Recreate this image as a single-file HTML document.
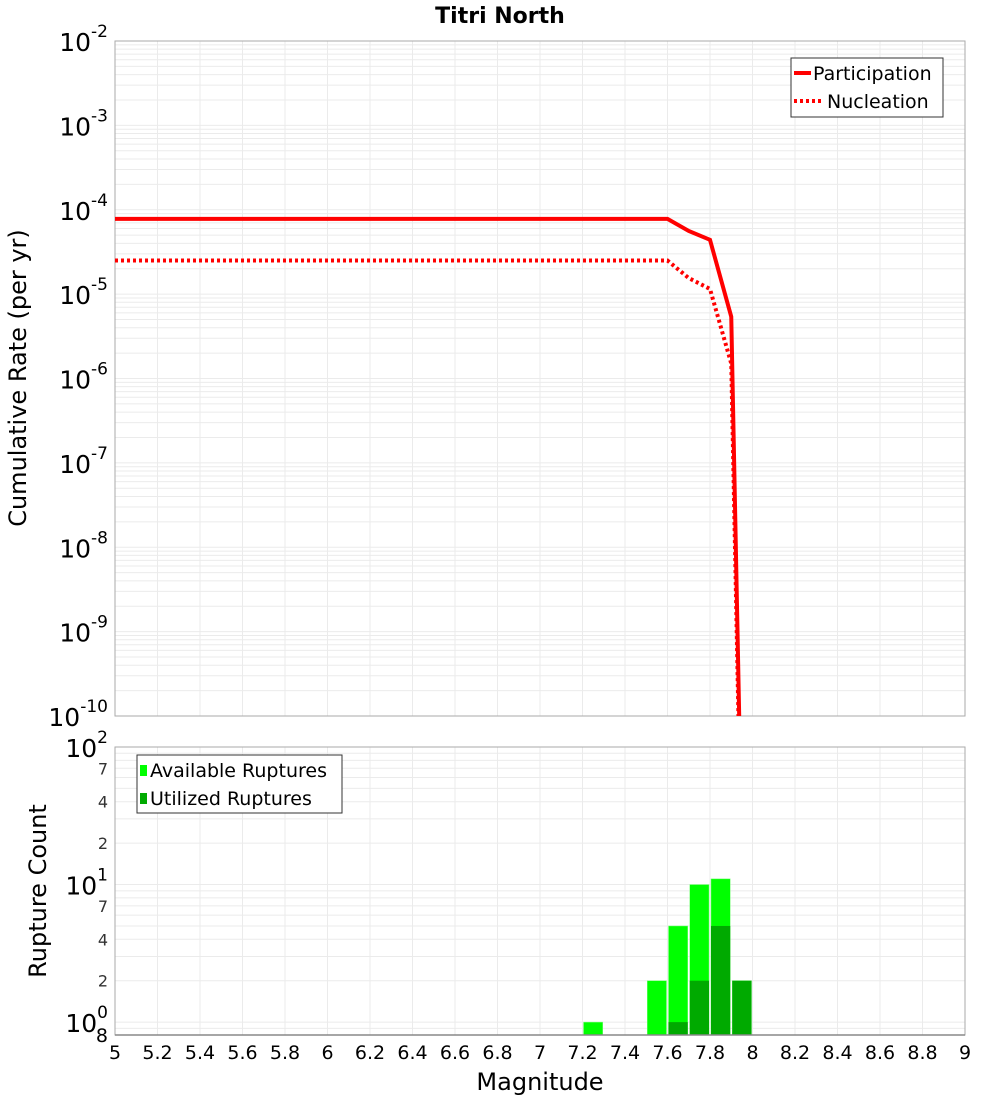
<!DOCTYPE html>
<html><head><meta charset="utf-8"><style>
body{margin:0;background:#fff;font-family:"Liberation Sans","DejaVu Sans",sans-serif;}
svg text{font-family:"DejaVu Sans","Liberation Sans",sans-serif;}
</style></head><body>
<svg id="c" width="1000" height="1100" xmlns="http://www.w3.org/2000/svg"></svg>
<script>
const magsLine = [5.0, 7.6, 7.7, 7.8, 7.9, 7.95];
const participation = [7.8e-5, 7.8e-5, 5.6e-5, 4.4e-5, 5.4e-6, 2.5e-12];
const nucleation = [2.5e-5, 2.5e-5, 1.55e-5, 1.15e-5, 1.5e-6, 1e-12];
const binCenters = [7.25, 7.55, 7.65, 7.75, 7.85, 7.95];
const available = [1, 2, 5, 10, 11, 2];
const utilized = [0, 0, 1, 2, 5, 2];
const xTicks = [5,5.2,5.4,5.6,5.8,6,6.2,6.4,6.6,6.8,7,7.2,7.4,7.6,7.8,8,8.2,8.4,8.6,8.8,9];
const topExps = [-2,-3,-4,-5,-6,-7,-8,-9,-10];
const botTicks = [7,4,2,7,4,2];

const NS="http://www.w3.org/2000/svg", svg=document.getElementById('c');
function el(t,a,p){const e=document.createElementNS(NS,t);for(const k in a)e.setAttribute(k,a[k]);(p||svg).appendChild(e);return e;}
const X0=115,X1=965;
const xs=m=>X0+(m-5)/4*(X1-X0);
const T0=41,T1=716;
const yt=v=>T0+(-2-Math.log10(v))/8*(T1-T0);
const B0=747,B1=1035,bLo=Math.log10(0.806),bHi=2;
const yb=v=>B1-(Math.log10(v)-bLo)/(bHi-bLo)*(B1-B0);

let t=el('text',{x:500,y:23,'text-anchor':'middle','font-size':22,'font-weight':'bold'});t.textContent='Titri North';


const gTop=el('g',{});
for(let d=-10;d<-2;d++)for(let k=1;k<10;k++){const y=yt(k*Math.pow(10,d));el('line',{x1:X0,x2:X1,y1:y,y2:y,stroke:'#ebebeb','stroke-width':1},gTop);}
for(const m of xTicks){el('line',{x1:xs(m),x2:xs(m),y1:T0,y2:T1,stroke:'#ebebeb'},gTop);}
el('rect',{x:X0,y:T0,width:X1-X0,height:T1-T0,fill:'none',stroke:'#aaa'});
for(const e of topExps){const y=yt(Math.pow(10,e));
 const g=el('text',{x:108,y:y+10,'text-anchor':'end','font-size':25});
 g.innerHTML='10<tspan dy="-14" font-size="17">'+e+'</tspan>';}
t=el('text',{x:26,y:378,'text-anchor':'middle','font-size':24,transform:'rotate(-90 26 378)'});t.textContent='Cumulative Rate (per yr)';

const clip=el('clipPath',{id:'ct'});el('rect',{x:X0,y:T0,width:X1-X0,height:T1-T0},clip);
function pts(arr){return magsLine.map((m,i)=>xs(m)+','+yt(arr[i])).join(' ');}
let p=el('polyline',{points:pts(participation),fill:'none',stroke:'#f00','stroke-width':4,'clip-path':'url(#ct)'});

p=el('polyline',{points:pts(nucleation),fill:'none',stroke:'#f00','stroke-width':4,'stroke-dasharray':'3 3','clip-path':'url(#ct)'});

const lg=el('g',{});
el('rect',{x:791,y:58,width:152,height:59,fill:'#fff',stroke:'#333'},lg);
el('line',{x1:794,x2:811,y1:73,y2:73,stroke:'#f00','stroke-width':4},lg);
el('line',{x1:794,x2:822,y1:101,y2:101,stroke:'#f00','stroke-width':4,'stroke-dasharray':'3 3'},lg);
t=el('text',{x:813,y:80,'font-size':19},lg);t.textContent='Participation';
t=el('text',{x:827,y:108,'font-size':19},lg);t.textContent='Nucleation';

const gB=el('g',{});
for(const v of [0.9,1,2,3,4,5,6,7,8,9,10,20,30,40,50,60,70,80,90,100]){const y=yb(v);el('line',{x1:X0,x2:X1,y1:y,y2:y,stroke:'#ebebeb'},gB);}
for(const m of xTicks){el('line',{x1:xs(m),x2:xs(m),y1:B0,y2:B1,stroke:'#ebebeb'},gB);}
const bw=xs(0.1)-xs(0);
binCenters.forEach((c,i)=>{
 let r=el('rect',{x:xs(c)-bw/2+1,y:yb(available[i]),width:bw-2,height:B1-yb(available[i]),fill:'#00ff00',stroke:'#7fff7f','stroke-width':0.5});
 
 if(utilized[i]>0){r=el('rect',{x:xs(c)-bw/2+1,y:yb(utilized[i]),width:bw-2,height:B1-yb(utilized[i]),fill:'#00aa00'});
 }
});
el('rect',{x:X0,y:B0,width:X1-X0,height:B1-B0,fill:'none',stroke:'#aaa'});
el('line',{x1:X0,x2:X1,y1:B1,y2:B1,stroke:'#888','stroke-width':1.5});
[[100,'2'],[10,'1'],[1,'0']].forEach(([v,e])=>{const g=el('text',{x:108,y:yb(v)+10,'text-anchor':'end','font-size':25});
 
 g.innerHTML='10<tspan dy="-14" font-size="17">'+e+'</tspan>';});
const bvals=[70,40,20,7,4,2];
botTicks.forEach((lab,i)=>{const g=el('text',{x:108,y:yb(bvals[i])+6,'text-anchor':'end','font-size':16,fill:'#333'});g.textContent=lab;
 });
t=el('text',{x:108,y:1042,'text-anchor':'end','font-size':19});t.textContent='8';
t=el('text',{x:46,y:891,'text-anchor':'middle','font-size':24,transform:'rotate(-90 46 891)'});t.textContent='Rupture Count';

xTicks.forEach(m=>{const g=el('text',{x:xs(m),y:1059,'text-anchor':'middle','font-size':19});g.textContent=String(m);
 });
t=el('text',{x:540,y:1090,'text-anchor':'middle','font-size':24});t.textContent='Magnitude';

const lb=el('g',{});
el('rect',{x:137,y:755,width:205,height:58,fill:'#fff',stroke:'#333'},lb);
el('rect',{x:140,y:765,width:7,height:11,fill:'#00ff00'},lb);
el('rect',{x:140,y:793,width:7,height:11,fill:'#00aa00'},lb);
t=el('text',{x:150,y:777,'font-size':19},lb);t.textContent='Available Ruptures';
t=el('text',{x:150,y:805,'font-size':19},lb);t.textContent='Utilized Ruptures';
</script>
</body></html>
